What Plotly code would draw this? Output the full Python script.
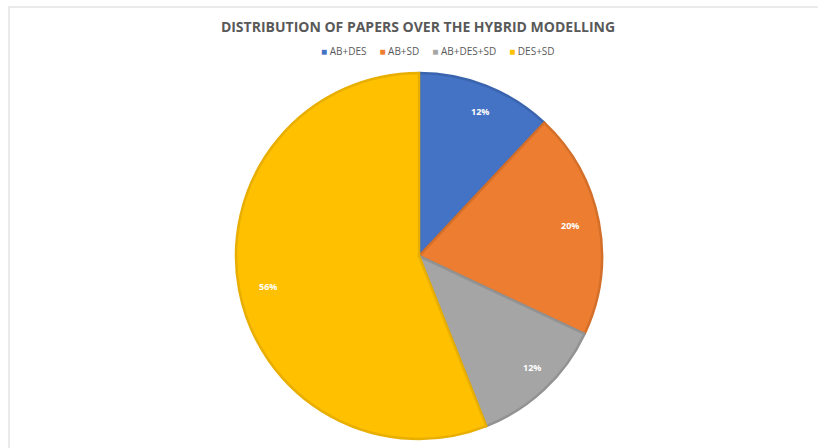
import math
import plotly.graph_objects as go

# Share of papers per hybrid modelling combination (percent)
categories = ["AB+DES", "AB+SD", "AB+DES+SD", "DES+SD"]
shares = [12, 20, 12, 56]

fill_colors = ["#4472C4", "#ED7D31", "#A5A5A5", "#FFC000"]
edge_colors = ["#3A64AE", "#D46F2A", "#929292", "#E8AE00"]

W, H = 818, 448
CX, CY, R = 419, 256, 183  # pie centre and radius in pixels

fig = go.Figure(
    go.Pie(
        labels=categories,
        values=shares,
        sort=False,
        direction="clockwise",
        rotation=0,
        textinfo="none",
        hoverinfo="label+percent",
        showlegend=False,
        marker=dict(colors=fill_colors, line=dict(color=edge_colors, width=2.5)),
        domain=dict(x=[(CX - R) / W, (CX + R) / W],
                    y=[(H - CY - R) / H, (H - CY + R) / H]),
    )
)

# Percentage labels near the rim, at each slice's mid angle
total = sum(shares)
start = 0.0
annotations = []
for val in shares:
    span = 360.0 * val / total
    mid = math.radians(start + span / 2)
    rr = 0.9 * R
    px = CX + rr * math.sin(mid)
    py = CY - rr * math.cos(mid)
    annotations.append(dict(
        x=px / W, y=1 - py / H, xref="paper", yref="paper",
        text=f"<b>{round(100 * val / total)}%</b>", showarrow=False,
        font=dict(family="Open Sans", size=9, color="white"),
    ))
    start += span

# Compact legend row: coloured square followed by the category name
legend_text = "     ".join(
    f'<span style="color:{c}">■</span> {name}' for c, name in zip(fill_colors, categories)
)
annotations.append(dict(
    x=438 / W, y=1 - 51 / H, xref="paper", yref="paper",
    xanchor="center", yanchor="middle", text=legend_text, showarrow=False,
    font=dict(family="Open Sans", size=10, color="#595959"),
))

fig.update_layout(
    width=W, height=H,
    margin=dict(l=0, r=0, t=0, b=0),
    paper_bgcolor="white",
    plot_bgcolor="white",
    title=dict(
        text="<b>DISTRIBUTION OF PAPERS OVER THE HYBRID MODELLING</b>",
        x=418 / W, xanchor="center", y=1 - 27 / H, yanchor="middle",
        font=dict(family="Open Sans", size=14, color="#595959"),
    ),
    annotations=annotations,
    shapes=[dict(type="rect", xref="paper", yref="paper",
                 x0=9 / W, x1=1.01, y0=-0.01, y1=1 - 7 / H,
                 line=dict(color="#E3E3E3", width=1.5))],
)

fig.write_html("out.html")
